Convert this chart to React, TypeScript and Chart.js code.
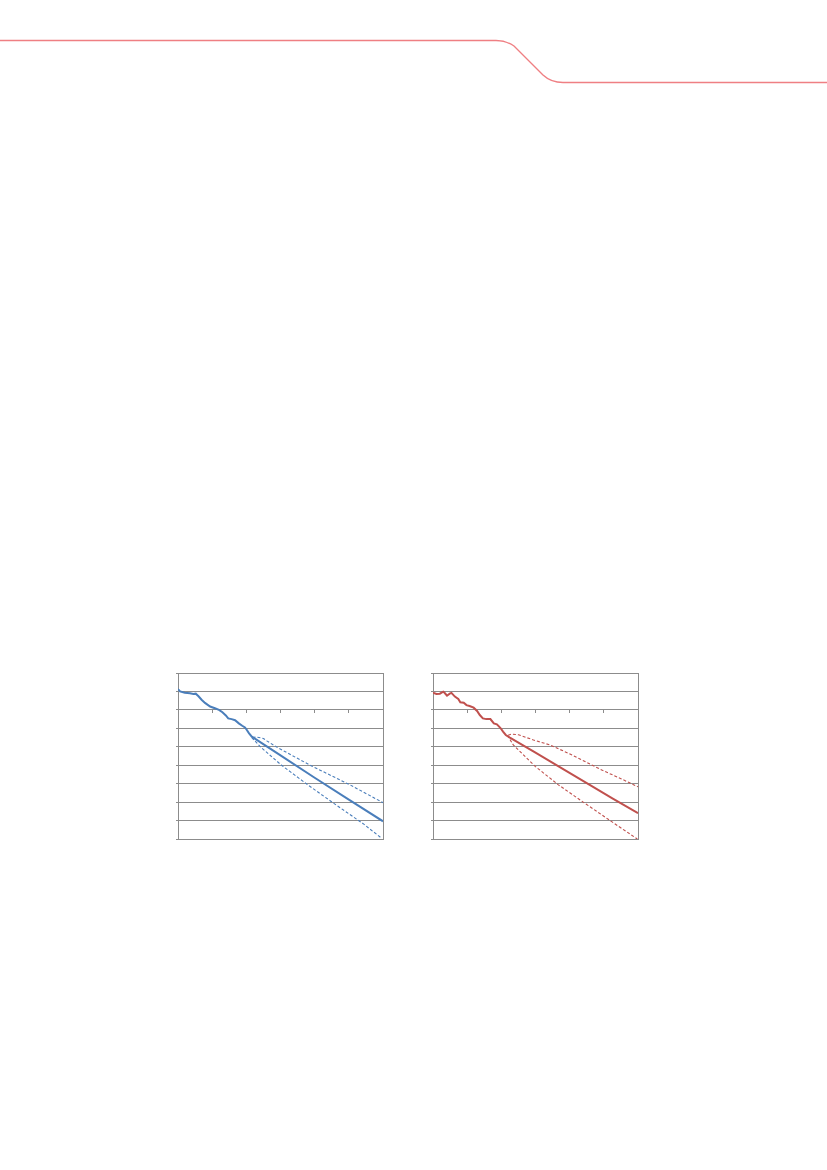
import React, { useEffect, useRef } from "react";
import { Chart, registerables } from "chart.js";

Chart.register(...registerables);

// x: projection horizon (tick units), y: gridline units (0 = x-axis)
const xTicks = [0, 1, 2, 3, 4, 5, 6];
const yMin = -7;
const yMax = 2;

const blueX = [0, 0.06, 0.2, 0.35, 0.45, 0.52, 0.6, 0.69, 0.79, 0.94, 1.08, 1.2, 1.3, 1.4, 1.47, 1.57, 1.67, 1.78, 1.88, 1.96, 2.0, 2.08, 2.16, 2.25, 3.0, 4.0, 5.0, 6.0];
const blueY = [1.13, 1.0, 0.93, 0.9, 0.86, 0.88, 0.74, 0.55, 0.38, 0.18, 0.09, 0.0, -0.13, -0.3, -0.46, -0.5, -0.56, -0.73, -0.86, -0.95, -1.05, -1.27, -1.45, -1.56, -2.47, -3.68, -4.87, -6.04];
const blueUpX = [2.18, 2.3, 2.5, 2.6, 2.89, 3.91, 5.03, 6.0];
const blueUpY = [-1.5, -1.47, -1.55, -1.68, -2.02, -3.04, -4.06, -5.03];
const blueLoX = [2.16, 2.42, 3.03, 3.81, 4.64, 5.42, 5.96];
const blueLoY = [-1.5, -2.02, -3.0, -4.08, -5.17, -6.17, -6.96];

const redX = [0, 0.1, 0.2, 0.3, 0.35, 0.41, 0.49, 0.54, 0.64, 0.74, 0.8, 0.9, 0.98, 1.07, 1.19, 1.29, 1.37, 1.46, 1.56, 1.68, 1.78, 1.87, 1.97, 2.05, 2.13, 2.25, 3.0, 3.86, 4.55, 5.25, 6.0];
const redY = [0.93, 0.86, 0.88, 0.99, 0.9, 0.77, 0.88, 0.92, 0.72, 0.59, 0.41, 0.39, 0.26, 0.21, 0.12, -0.06, -0.28, -0.46, -0.5, -0.5, -0.73, -0.78, -0.97, -1.18, -1.36, -1.5, -2.32, -3.26, -4.03, -4.8, -5.6];
const redUpX = [2.2, 2.3, 2.5, 2.94, 3.42, 3.96, 4.45, 4.94, 5.5, 6.0];
const redUpY = [-1.38, -1.31, -1.35, -1.63, -1.9, -2.35, -2.8, -3.26, -3.73, -4.17];
const redLoX = [2.18, 2.35, 2.99, 3.66, 4.45, 5.23, 5.98];
const redLoY = [-1.38, -1.9, -3.06, -4.05, -5.07, -6.06, -7.0];

const GRID = "#8c8c8c";

function pts(xs: number[], ys: number[]) {
  return xs.map((x, i) => ({ x, y: ys[i] }));
}

function FanChart(props: {
  left: number;
  top: number;
  color: string;
  mainX: number[];
  mainY: number[];
  upX: number[];
  upY: number[];
  loX: number[];
  loY: number[];
}) {
  const ref = useRef<HTMLCanvasElement | null>(null);
  useEffect(() => {
    if (!ref.current) return;
    const dashed = (data: { x: number; y: number }[]) => ({
      data,
      borderColor: props.color,
      borderWidth: 1.1,
      borderDash: [3, 2],
      pointRadius: 0,
      tension: 0,
      fill: false,
    });
    const chart = new Chart(ref.current, {
      type: "line",
      data: {
        datasets: [
          dashed(pts(props.upX, props.upY)),
          dashed(pts(props.loX, props.loY)),
          {
            data: pts(props.mainX, props.mainY),
            borderColor: props.color,
            borderWidth: 2,
            pointRadius: 0,
            tension: 0,
            fill: false,
          },
        ],
      },
      options: {
        animation: false,
        responsive: false,
        devicePixelRatio: 1,
        layout: { padding: { top: 4, right: 4, bottom: 4, left: 0 } },
        plugins: { legend: { display: false }, tooltip: { enabled: false } },
        scales: {
          x: {
            type: "linear",
            min: xTicks[0],
            max: xTicks[xTicks.length - 1],
            position: { y: 0 } as any,
            afterBuildTicks: (s: any) => {
              s.ticks = xTicks.map((v) => ({ value: v }));
            },
            ticks: { display: false },
            grid: {
              drawOnChartArea: false,
              drawTicks: true,
              tickLength: 3,
              color: GRID,
            },
            border: { display: true, color: GRID, width: 1 },
          },
          y: {
            type: "linear",
            min: yMin,
            max: yMax,
            position: "left",
            ticks: { display: false, stepSize: 1 },
            grid: { color: GRID, drawTicks: true, tickLength: 2, lineWidth: 1 },
            border: { display: true, color: GRID, width: 1 },
          },
          y2: {
            type: "linear",
            position: "right",
            min: 0,
            max: 1,
            ticks: { display: false },
            grid: { drawOnChartArea: false, drawTicks: false },
            border: { display: true, color: GRID, width: 1 },
          },
        },
      },
    });
    return () => chart.destroy();
  }, []);
  return (
    <canvas
      ref={ref}
      width={211}
      height={174}
      style={{ position: "absolute", left: props.left, top: props.top, width: 211, height: 174 }}
    />
  );
}

export default function App() {
  return (
    <div style={{ position: "absolute", left: 0, top: 0, width: 827, height: 1170, background: "#fff", overflow: "hidden" }}>
      <svg width={827} height={1170} style={{ position: "absolute", left: 0, top: 0 }}>
        <path
          d="M0 40.5 H496 Q506 40.5 514 46 L543 75 Q551 82.5 563 82.5 H827"
          fill="none"
          stroke="#ef7f83"
          strokeWidth={1.4}
        />
      </svg>
      <FanChart
        left={176}
        top={669}
        color="#4a7ebb"
        mainX={blueX}
        mainY={blueY}
        upX={blueUpX}
        upY={blueUpY}
        loX={blueLoX}
        loY={blueLoY}
      />
      <FanChart
        left={431}
        top={669}
        color="#c0504d"
        mainX={redX}
        mainY={redY}
        upX={redUpX}
        upY={redUpY}
        loX={redLoX}
        loY={redLoY}
      />
    </div>
  );
}
